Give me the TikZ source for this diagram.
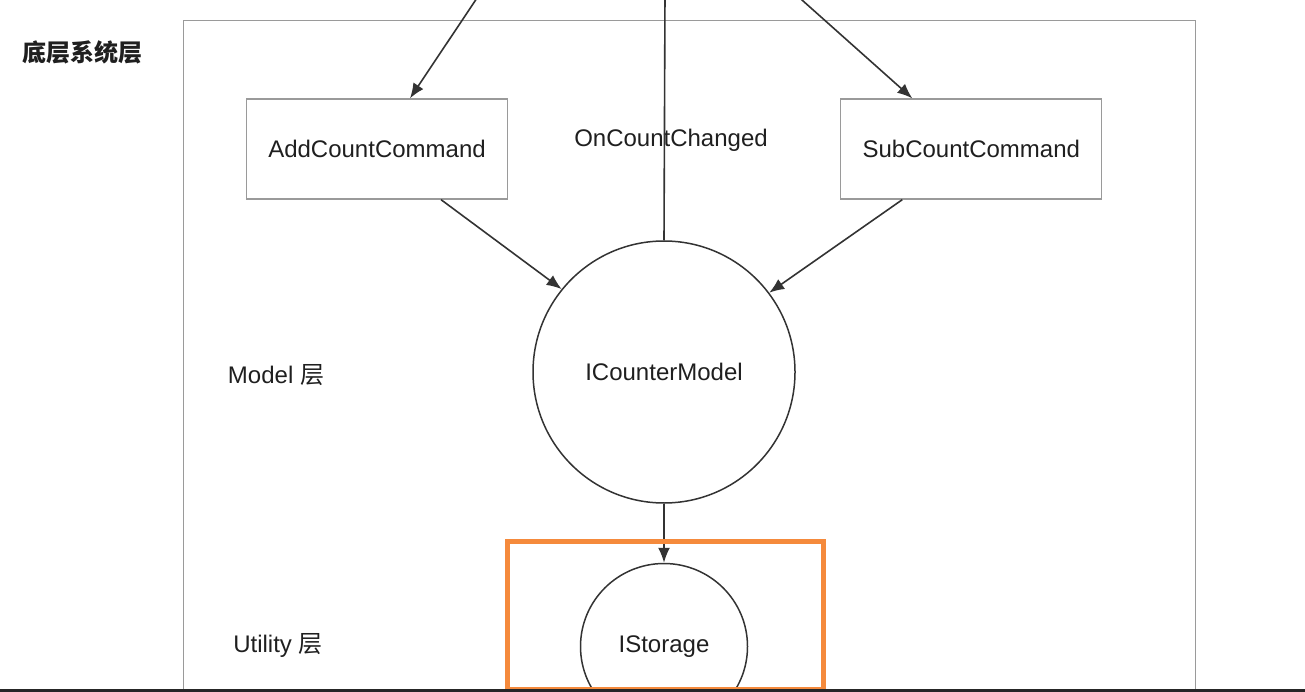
\documentclass[tikz,border=0pt]{standalone}
\usepackage{fontspec}
\setmainfont{Liberation Sans}
\newfontfamily\cjk{Noto Sans CJK SC}
\usetikzlibrary{shapes,positioning,arrows.meta}
\definecolor{framegray}{HTML}{9A9A9A}
\definecolor{linegray}{HTML}{333333}
\definecolor{markorange}{HTML}{F58A3C}

\begin{document}
\begin{tikzpicture}[x=1pt, y=-1pt, font=\fontsize{24}{28}\selectfont, text=black!88,
  command/.style={rectangle, draw=framegray, line width=1.3pt, minimum width=261pt, minimum height=100pt, inner sep=0pt},
  model/.style={circle, draw=linegray, line width=1.5pt, minimum size=262pt, inner sep=0pt},
  storage/.style={ellipse, draw=linegray, line width=1.5pt, minimum width=167pt, minimum height=166pt, inner sep=0pt},
  layer/.style={anchor=center, inner sep=0pt},
  link/.style={draw=linegray, line width=1.6pt, -{Latex[length=15pt, width=12pt]}}]

\clip (0,0) rectangle (1305,692);

% FRAME

\node [rectangle, draw=framegray, line width=1.4pt, minimum width=1012pt, minimum height=700pt, anchor=north west] (frame) at (183,20) {};

% LAYERS

\node [layer] (systemlayer) at (82,52) {\cjk\bfseries 底层系统层};
\node [layer] (modellayer) at (276,375) {Model {\cjk 层}};
\node [layer] (utilitylayer) at (278,645) {Utility {\cjk 层}};

% NODES

\node [command] (addcommand) at (377,149) {AddCountCommand};

\node [command, right=332pt of addcommand] (subcommand) {SubCountCommand};

\node [model] (countermodel) at (664,372) {ICounterModel};

\node [storage, below=59pt of countermodel] (storage) {IStorage};

\node [layer] (changedlabel) at (671,140) {OnCountChanged};

% LINKS

\coordinate (addsource) at (481,-8);
\coordinate (subsource) at (793,-8);
\coordinate (changedend) at (665,-8);

\draw [link] (addsource) -- ([xshift=33pt]addcommand.north);
\draw [link] (subsource) -- ([xshift=-59pt]subcommand.north);
\draw [draw=linegray, line width=1.6pt] (countermodel.north) -- (changedend);
\draw [link] ([xshift=64pt]addcommand.south) -- (countermodel.141);
\draw [link] ([xshift=-69pt]subcommand.south) -- (countermodel.37);
\draw [link] (countermodel.south) -- (storage.north);

% HIGHLIGHT

\node [rectangle, draw=markorange, line width=5pt, minimum width=316pt, minimum height=148pt, inner sep=0pt] (highlight) at (665,615) {};

\draw [black!85, line width=2.5pt] (0,690.5) -- (1305,690.5);

\end{tikzpicture}
\end{document}
